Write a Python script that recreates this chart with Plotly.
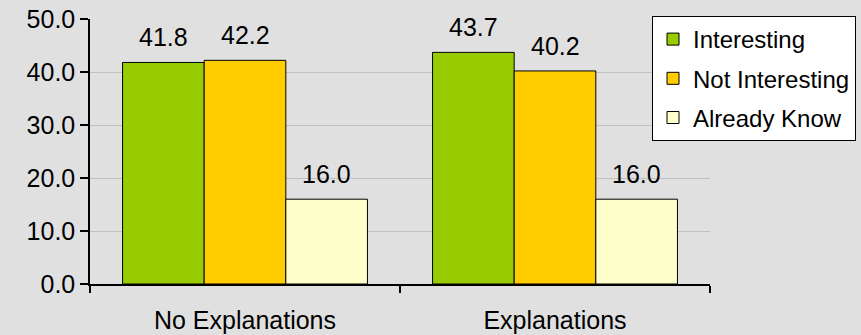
import plotly.graph_objects as go

categories = ["No Explanations", "Explanations"]
series_names = ["Interesting", "Not Interesting", "Already Know"]
interesting = [41.8, 43.7]
not_interesting = [42.2, 40.2]
already_know = [16.0, 16.0]
y_ticks = [0, 10, 20, 30, 40, 50]

colors = ["#99CC00", "#FFCC00", "#FFFFCC"]
values = [interesting, not_interesting, already_know]

FONT = "Liberation Sans, Arial, sans-serif"
FS = 25

fig = go.Figure()
for name, vals, col in zip(series_names, values, colors):
    fig.add_trace(go.Bar(
        x=categories, y=vals, name=name,
        marker=dict(color=col, line=dict(color="black", width=1)),
        legendgroup=name,
    ))

# data labels above bars
W, H = 861, 335
ml, mr, mt, mb = 90, 151, 19, 51
plot_w = W - ml - mr
plot_h = H - mt - mb
bargap = 0.21
cat_w = plot_w / len(categories)
bar_w = cat_w * (1 - bargap) / len(series_names)
for j, vals in enumerate(values):
    off = (j - (len(series_names) - 1) / 2) * bar_w
    for c, v in zip(categories, vals):
        fig.add_annotation(x=c, y=v, text=f"{v:.1f}", showarrow=False,
                           xshift=off, yanchor="bottom", yshift=9,
                           font=dict(family=FONT, size=FS, color="black"))

fig.update_layout(
    width=W, height=H,
    margin=dict(l=ml, r=mr, t=mt, b=mb, autoexpand=False),
    paper_bgcolor="#E0E0E0", plot_bgcolor="#E0E0E0",
    barmode="group", bargap=bargap, bargroupgap=0,
    font=dict(family=FONT, size=FS, color="black"),
    showlegend=True,
    legend=dict(
        x=(652 - ml) / plot_w, y=1 + 3 / plot_h, xanchor="left", yanchor="top",
        bgcolor="white", bordercolor="black", borderwidth=1,
        font=dict(family=FONT, size=24, color="black"),
        traceorder="grouped", tracegroupgap=5,
    ),
    xaxis=dict(
        automargin=False,
        showline=True, linecolor="black", linewidth=1.5,
        ticks="outside", tickson="boundaries", ticklen=7, tickcolor="black", tickwidth=1.5,
        showgrid=False, ticklabelstandoff=13,
        tickfont=dict(family=FONT, size=FS, color="black"),
    ),
    yaxis=dict(
        automargin=False,
        range=[0, 50], tickvals=y_ticks, tickformat=".1f",
        showline=True, linecolor="black", linewidth=1.5,
        ticks="outside", ticklen=8, tickcolor="black", tickwidth=1.5,
        showgrid=True, gridcolor="#C0C0C0", gridwidth=1, zeroline=False,
        tickfont=dict(family=FONT, size=FS, color="black"),
    ),
)

fig.write_html("out.html")
